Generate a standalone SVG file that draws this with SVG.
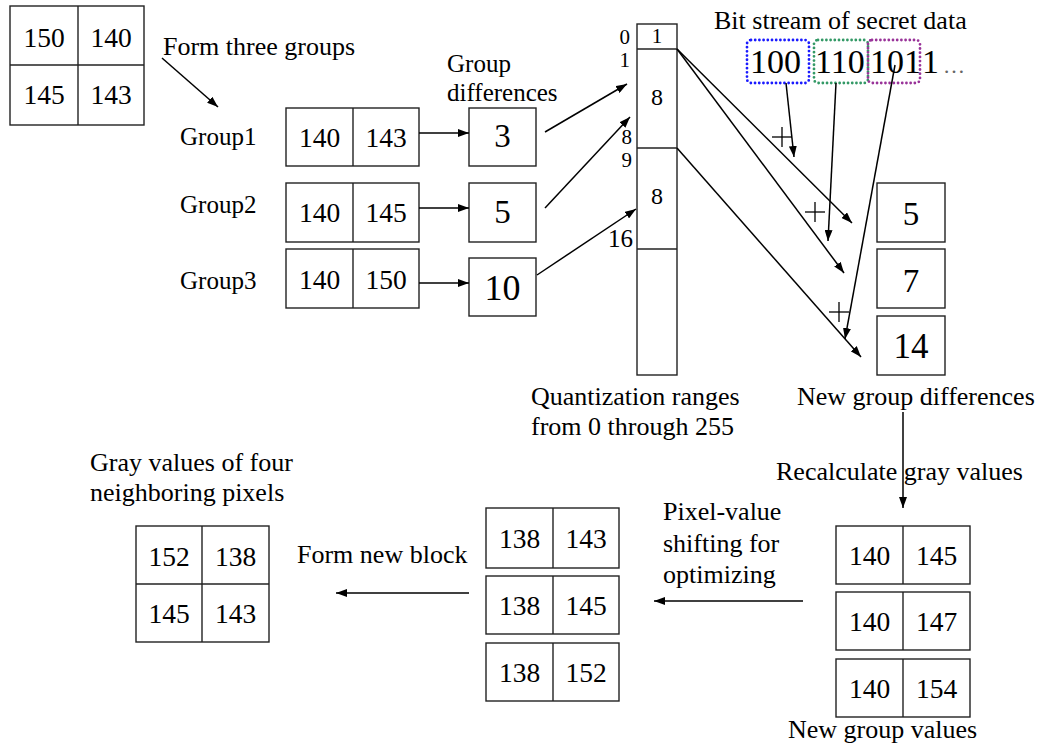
<svg xmlns="http://www.w3.org/2000/svg" width="1043" height="745" viewBox="0 0 1043 745" font-family="'Liberation Serif','DejaVu Serif',serif">
<style>
text{font-family:"Liberation Serif","Tinos","DejaVu Serif","Noto Serif",serif;fill:#000}
.lbl{font-size:26px}
.num{font-size:27.5px;text-anchor:middle}
.big{font-size:33px;text-anchor:middle}
.sm{font-size:21px}
.box{fill:#fff;stroke:#222;stroke-width:1.4}
.ln{stroke:#222;stroke-width:1.4;fill:none}
.ar{stroke:#000;stroke-width:1.5;fill:none;marker-end:url(#ah)}
.dot{fill:none;stroke-width:2.8;stroke-linecap:round;stroke-dasharray:0 4.2}
</style>
<defs>
<marker id="ah" markerUnits="userSpaceOnUse" markerWidth="11" markerHeight="8" refX="11" refY="4" orient="auto">
<path d="M0,0 L11,4 L0,8 z" fill="#000"/>
</marker>
</defs>
<rect width="1043" height="745" fill="#fff"/>

<g id="block-original">
<rect class="box" x="10" y="6" width="134" height="119"/>
<line class="ln" x1="78" y1="6" x2="78" y2="125"/>
<line class="ln" x1="10" y1="65" x2="144" y2="65"/>
<text class="num" x="44" y="47">150</text>
<text class="num" x="111" y="47">140</text>
<text class="num" x="44" y="104">145</text>
<text class="num" x="111" y="104">143</text>
</g>

<g id="labels">
<text class="lbl" x="163" y="55">Form three groups</text>
<text class="lbl" x="180" y="145" style="font-size:25px">Group1</text>
<text class="lbl" x="180" y="213" style="font-size:25px">Group2</text>
<text class="lbl" x="180" y="289" style="font-size:25px">Group3</text>
<text class="lbl" x="447" y="72" style="font-size:25px">Group</text>
<text class="lbl" x="447" y="101" style="font-size:25px">differences</text>
<text class="lbl" x="714" y="29">Bit stream of secret data</text>
<text class="lbl" x="531" y="405">Quantization ranges</text>
<text class="lbl" x="531" y="435">from 0 through 255</text>
<text class="lbl" x="797" y="405">New group differences</text>
<text class="lbl" x="776" y="480">Recalculate gray values</text>
<text class="lbl" x="663" y="520">Pixel-value</text>
<text class="lbl" x="663" y="552">shifting for</text>
<text class="lbl" x="663" y="583">optimizing</text>
<text class="lbl" x="297" y="563">Form new block</text>
<text class="lbl" x="90" y="471">Gray values of four</text>
<text class="lbl" x="90" y="501">neighboring pixels</text>
<text class="lbl" x="788" y="738">New group values</text>
</g>

<g id="group1">
<rect class="box" x="286" y="108" width="133" height="58"/>
<line class="ln" x1="353" y1="108" x2="353" y2="166"/>
<text class="num" x="319.5" y="147">140</text>
<text class="num" x="386" y="147">143</text>
</g>
<g id="group2">
<rect class="box" x="286" y="183" width="133" height="59"/>
<line class="ln" x1="353" y1="183" x2="353" y2="242"/>
<text class="num" x="319.5" y="222">140</text>
<text class="num" x="386" y="222">145</text>
</g>
<g id="group3">
<rect class="box" x="286" y="249" width="133" height="59"/>
<line class="ln" x1="353" y1="249" x2="353" y2="308"/>
<text class="num" x="319.5" y="289">140</text>
<text class="num" x="386" y="289">150</text>
</g>

<g id="diff1">
<rect class="box" x="469" y="108" width="67" height="58"/>
<text class="big" x="502.5" y="147">3</text>
</g>
<g id="diff2">
<rect class="box" x="469" y="183" width="67" height="59"/>
<text class="big" x="502.5" y="223">5</text>
</g>
<g id="diff3">
<rect class="box" x="469" y="258" width="67" height="58"/>
<text class="big" x="502.5" y="300" style="font-size:36px">10</text>
</g>

<g id="quant-ranges">
<rect class="box" x="637" y="24" width="40" height="351"/>
<line class="ln" x1="637" y1="49" x2="677" y2="49"/>
<line class="ln" x1="637" y1="148" x2="677" y2="148"/>
<line class="ln" x1="637" y1="249" x2="677" y2="249"/>
<text class="sm" x="657" y="43" text-anchor="middle">1</text>
<text class="sm" x="657" y="105" text-anchor="middle" style="font-size:24px">8</text>
<text class="sm" x="657" y="204" text-anchor="middle" style="font-size:24px">8</text>
<text class="sm" x="630" y="44" text-anchor="end">0</text>
<text class="sm" x="630" y="67" text-anchor="end">1</text>
<text class="sm" x="632" y="144" text-anchor="end">8</text>
<text class="sm" x="632" y="167" text-anchor="end">9</text>
<text class="sm" x="633" y="247" text-anchor="end" style="font-size:25px">16</text>
</g>

<g id="bitstream">
<rect class="dot" x="747" y="40" width="62" height="43" rx="4" stroke="#1a1aff"/>
<rect class="dot" x="814" y="40" width="54" height="43" rx="4" stroke="#339966"/>
<rect class="dot" x="868" y="40" width="52" height="43" rx="4" stroke="#993399"/>
<text x="750" y="73" style="font-size:34px">100</text>
<text x="815" y="73" style="font-size:34px">110</text>
<text x="870" y="73" style="font-size:34px">101</text>
<text x="922" y="73" style="font-size:34px">1</text>
<text x="943" y="73" style="font-size:22px;fill:#666">…</text>
</g>

<g id="newdiff1">
<rect class="box" x="877" y="183" width="68" height="59"/>
<text class="big" x="911" y="225">5</text>
</g>
<g id="newdiff2">
<rect class="box" x="877" y="249" width="68" height="59"/>
<text class="big" x="911" y="292">7</text>
</g>
<g id="newdiff3">
<rect class="box" x="877" y="316" width="68" height="59"/>
<text class="big" x="911" y="358" style="font-size:35px">14</text>
</g>

<g id="newvals1">
<rect class="box" x="836" y="526" width="134" height="58"/>
<line class="ln" x1="903" y1="526" x2="903" y2="584"/>
<text class="num" x="869.5" y="565">140</text>
<text class="num" x="936.5" y="565">145</text>
</g>
<g id="newvals2">
<rect class="box" x="836" y="592" width="134" height="58"/>
<line class="ln" x1="903" y1="592" x2="903" y2="650"/>
<text class="num" x="869.5" y="631">140</text>
<text class="num" x="936.5" y="631">147</text>
</g>
<g id="newvals3">
<rect class="box" x="836" y="659" width="134" height="58"/>
<line class="ln" x1="903" y1="659" x2="903" y2="717"/>
<text class="num" x="869.5" y="698">140</text>
<text class="num" x="936.5" y="698">154</text>
</g>

<g id="shifted1">
<rect class="box" x="486" y="508" width="133" height="60"/>
<line class="ln" x1="553" y1="508" x2="553" y2="568"/>
<text class="num" x="519.5" y="548">138</text>
<text class="num" x="586" y="548">143</text>
</g>
<g id="shifted2">
<rect class="box" x="486" y="576" width="133" height="58"/>
<line class="ln" x1="553" y1="576" x2="553" y2="634"/>
<text class="num" x="519.5" y="615">138</text>
<text class="num" x="586" y="615">145</text>
</g>
<g id="shifted3">
<rect class="box" x="486" y="643" width="133" height="58"/>
<line class="ln" x1="553" y1="643" x2="553" y2="701"/>
<text class="num" x="519.5" y="682">138</text>
<text class="num" x="586" y="682">152</text>
</g>

<g id="block-final">
<rect class="box" x="136" y="526" width="133" height="116"/>
<line class="ln" x1="202" y1="526" x2="202" y2="642"/>
<line class="ln" x1="136" y1="584" x2="269" y2="584"/>
<text class="num" x="169" y="566">152</text>
<text class="num" x="235.5" y="566">138</text>
<text class="num" x="169" y="623">145</text>
<text class="num" x="235.5" y="623">143</text>
</g>

<g id="connectors">
<line class="ar" x1="162" y1="58" x2="218" y2="107"/>
<line class="ar" x1="419" y1="133" x2="469" y2="133"/>
<line class="ar" x1="419" y1="208" x2="469" y2="208"/>
<line class="ar" x1="419" y1="283" x2="469" y2="283"/>
<line class="ar" x1="545" y1="132" x2="627" y2="84"/>
<line class="ar" x1="545" y1="208" x2="630" y2="117"/>
<line class="ar" x1="537" y1="275" x2="636" y2="209"/>
<line class="ar" x1="677" y1="49" x2="852" y2="223"/>
<line class="ar" x1="677" y1="49" x2="844" y2="273"/>
<line class="ar" x1="677" y1="148" x2="861" y2="357"/>
<line class="ar" x1="786" y1="83" x2="794" y2="157"/>
<line class="ar" x1="836" y1="83" x2="828" y2="241"/>
<line class="ar" x1="895" y1="65" x2="845" y2="339"/>
<line class="ar" x1="903" y1="412" x2="903" y2="508"/>
<line class="ar" x1="803" y1="601" x2="654" y2="601"/>
<line class="ar" x1="469" y1="593" x2="336" y2="593"/>
<g class="ln" style="stroke:#000;stroke-width:1.3">
<line x1="772" y1="137" x2="792" y2="137"/><line x1="782" y1="127" x2="782" y2="147"/>
<line x1="805" y1="212" x2="825" y2="212"/><line x1="815" y1="202" x2="815" y2="222"/>
<line x1="829" y1="312" x2="849" y2="312"/><line x1="839" y1="302" x2="839" y2="322"/>
</g>
</g>
</svg>
